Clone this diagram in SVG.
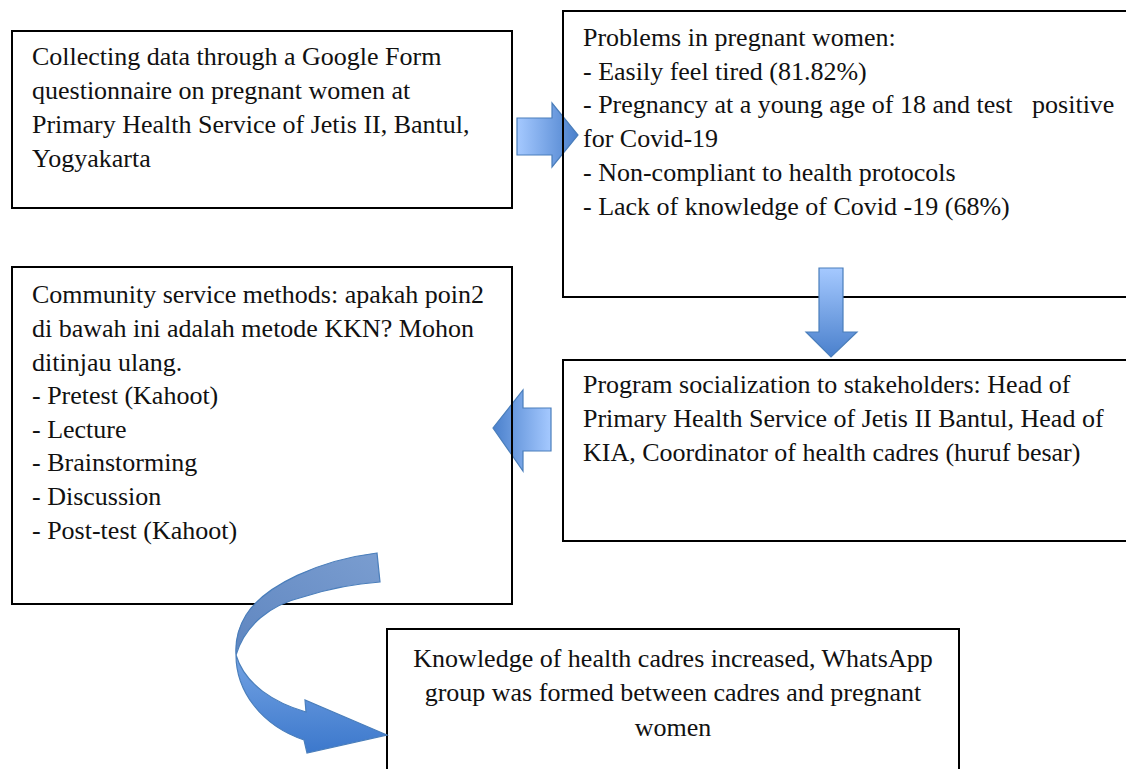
<svg xmlns="http://www.w3.org/2000/svg" width="1126" height="769" viewBox="0 0 1126 769">
<style>
.box{fill:none;stroke:#000;stroke-width:2}
.t{font-size:26px;fill:#111;white-space:pre}
.arr{stroke:#4a7ebb;stroke-width:1.2;stroke-linejoin:miter}
</style>
<defs>
<linearGradient id="gR" x1="0" y1="0" x2="1" y2="0"><stop offset="0" stop-color="#a5c9ff"/><stop offset="1" stop-color="#4a80cc"/></linearGradient>
<linearGradient id="gD" x1="0" y1="0" x2="0" y2="1"><stop offset="0" stop-color="#a5c9ff"/><stop offset="1" stop-color="#4a80cc"/></linearGradient>
<linearGradient id="gL" x1="1" y1="0" x2="0" y2="0"><stop offset="0" stop-color="#a5c9ff"/><stop offset="1" stop-color="#4a80cc"/></linearGradient>
<linearGradient id="gCT" x1="1" y1="0" x2="0" y2="1"><stop offset="0" stop-color="#7a9dd0"/><stop offset="1" stop-color="#5f86c0"/></linearGradient>
<linearGradient id="gCB" x1="0" y1="0" x2="0" y2="1"><stop offset="0" stop-color="#74a3e3"/><stop offset="1" stop-color="#3c78cc"/></linearGradient>
</defs>
<g id="connectors-under">
<path class="arr" fill="url(#gR)" d="M517,118 L552,118 L552,103 L578,135 L552,167 L552,155 L517,155 Z"/>
<path class="arr" fill="url(#gL)" d="M551,408 L523,408 L523,390 L493,428 L523,471 L523,451 L551,451 Z"/>
</g>
<g font-family="Liberation Serif, DejaVu Serif, serif">
<g id="n1"><rect class="box" x="12" y="31" width="500" height="177"/>
<text class="t" x="32" y="65">Collecting data through a Google Form</text>
<text class="t" x="32" y="99">questionnaire on pregnant women at</text>
<text class="t" x="32" y="133">Primary Health Service of Jetis II, Bantul,</text>
<text class="t" x="32" y="167">Yogyakarta</text></g>
<g id="n2"><rect class="box" x="563" y="11" width="600" height="286"/>
<text class="t" x="583" y="46">Problems in pregnant women:</text>
<text class="t" x="583" y="80">- Easily feel tired (81.82%)</text>
<text class="t" x="583" y="113">- Pregnancy at a young age of 18 and test   positive</text>
<text class="t" x="583" y="147">for Covid-19</text>
<text class="t" x="583" y="181">- Non-compliant to health protocols</text>
<text class="t" x="583" y="215">- Lack of knowledge of Covid -19 (68%)</text></g>
<g id="n3"><rect class="box" x="12" y="267" width="500" height="337"/>
<text class="t" x="32" y="303">Community service methods: apakah poin2</text>
<text class="t" x="32" y="337">di bawah ini adalah metode KKN? Mohon</text>
<text class="t" x="32" y="371">ditinjau ulang.</text>
<text class="t" x="32" y="404">- Pretest (Kahoot)</text>
<text class="t" x="32" y="438">- Lecture</text>
<text class="t" x="32" y="471">- Brainstorming</text>
<text class="t" x="32" y="505">- Discussion</text>
<text class="t" x="32" y="539">- Post-test (Kahoot)</text></g>
<g id="n4"><rect class="box" x="563" y="360" width="600" height="181"/>
<text class="t" x="583" y="393">Program socialization to stakeholders: Head of</text>
<text class="t" x="583" y="427">Primary Health Service of Jetis II Bantul, Head of</text>
<text class="t" x="583" y="461">KIA, Coordinator of health cadres (huruf besar)</text></g>
<g id="n5"><rect class="box" x="387" y="629" width="572" height="200"/>
<text class="t" x="673" y="667" text-anchor="middle">Knowledge of health cadres increased, WhatsApp</text>
<text class="t" x="673" y="701" text-anchor="middle">group was formed between cadres and pregnant</text>
<text class="t" x="673" y="736" text-anchor="middle">women</text></g>
</g>
<g id="connectors">
<path class="arr" fill="url(#gD)" d="M819,268 L843,268 L843,332 L857,332 L831,357 L806,332 L819,332 Z"/>
<path class="arr" fill="url(#gCB)" d="M236,655 C236,690 260,725 304,740 L307,753 L387,735 L305,700 L306,712 C275,703 245,685 236,655 Z"/>
<path class="arr" fill="url(#gCT)" d="M377,553 C320,560 265,585 246,615 C238,628 235,640 236,655 C245,625 270,605 303,597 C325,590 350,584 380,582 Z"/>
</g>
</svg>
